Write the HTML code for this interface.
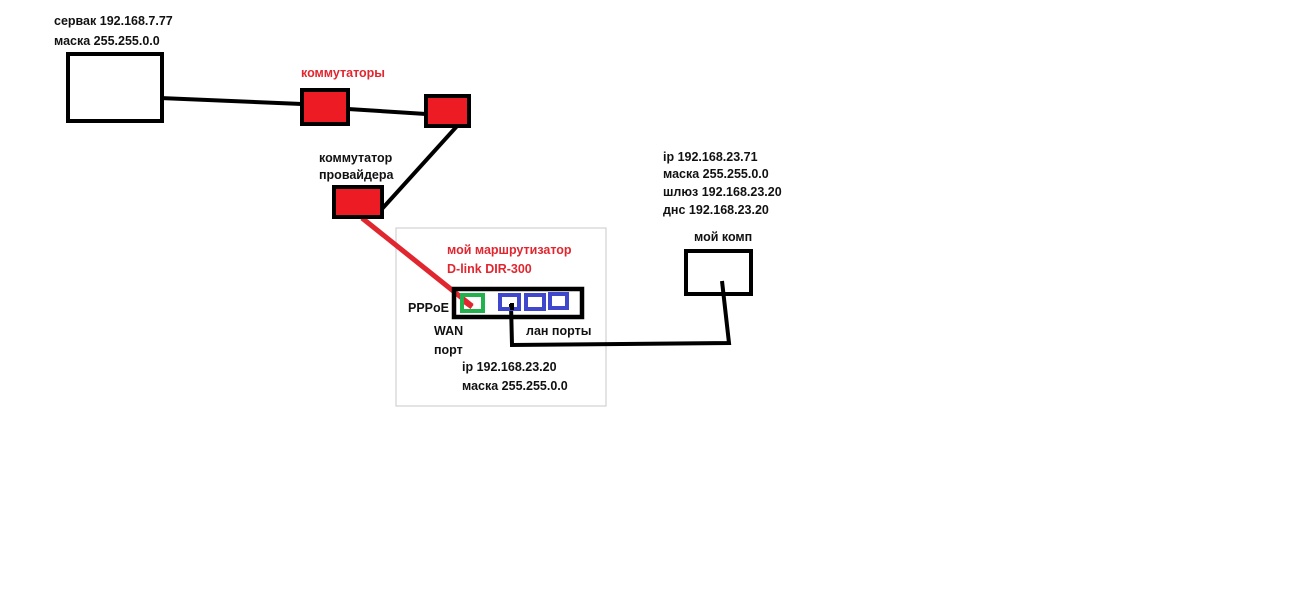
<!DOCTYPE html>
<html><head><meta charset="utf-8"><style>
html,body{margin:0;padding:0;background:#fff;}
svg{display:block;}
text{font-family:"Liberation Sans","DejaVu Sans",sans-serif;font-weight:bold;font-size:12.5px;fill:#111;}
.r{fill:#e0262f;}
</style></head><body>
<svg width="1289" height="600" viewBox="0 0 1289 600" xmlns="http://www.w3.org/2000/svg">
<rect x="0" y="0" width="1289" height="600" fill="#fff"/>
<rect x="396" y="228" width="210" height="178" fill="none" stroke="#c8c8c8" stroke-width="1"/>
<!-- lines -->
<line x1="160" y1="98" x2="302" y2="104" stroke="#000" stroke-width="4"/>
<line x1="348" y1="109" x2="426" y2="114" stroke="#000" stroke-width="4"/>
<line x1="458" y1="125" x2="381" y2="210" stroke="#000" stroke-width="4"/>
<line x1="362" y1="218" x2="472" y2="306" stroke="#e0262f" stroke-width="5"/>
<polyline points="511,304 512,345 729,343 722,281" fill="none" stroke="#000" stroke-width="4"/>
<!-- boxes -->
<rect x="68" y="54" width="94" height="67" fill="#fff" stroke="#000" stroke-width="4"/>
<rect x="302" y="90" width="46" height="34" fill="#ed1c24" stroke="#000" stroke-width="4"/>
<rect x="426" y="96" width="43" height="30" fill="#ed1c24" stroke="#000" stroke-width="4"/>
<rect x="334" y="187" width="48" height="30" fill="#ed1c24" stroke="#000" stroke-width="4"/>
<rect x="454" y="289" width="128" height="28" fill="none" stroke="#000" stroke-width="4.5"/>
<rect x="462" y="295" width="21" height="16" fill="none" stroke="#22b14c" stroke-width="4"/>
<line x1="465" y1="302" x2="472" y2="307" stroke="#e0262f" stroke-width="5"/>
<rect x="500" y="295" width="19" height="14" fill="none" stroke="#3f48cc" stroke-width="4"/>
<rect x="526" y="295" width="18" height="14" fill="none" stroke="#3f48cc" stroke-width="4"/>
<rect x="550" y="294" width="17" height="14" fill="none" stroke="#3f48cc" stroke-width="4"/>
<rect x="686" y="251" width="65" height="43" fill="none" stroke="#000" stroke-width="4"/>
<line x1="512" y1="303" x2="512" y2="310" stroke="#000" stroke-width="4"/>
<!-- text -->
<text x="54" y="25">сервак 192.168.7.77</text>
<text x="54" y="45">маска 255.255.0.0</text>
<text x="301" y="77" class="r">коммутаторы</text>
<text x="319" y="162">коммутатор</text>
<text x="319" y="179">провайдера</text>
<text x="447" y="254" class="r">мой маршрутизатор</text>
<text x="447" y="273" class="r">D-link DIR-300</text>
<text x="408" y="312">PPPoE</text>
<text x="434" y="335">WAN</text>
<text x="434" y="354">порт</text>
<text x="526" y="335">лан порты</text>
<text x="462" y="371">ip 192.168.23.20</text>
<text x="462" y="390">маска 255.255.0.0</text>
<text x="663" y="161">ip 192.168.23.71</text>
<text x="663" y="178">маска 255.255.0.0</text>
<text x="663" y="196">шлюз 192.168.23.20</text>
<text x="663" y="214">днс 192.168.23.20</text>
<text x="694" y="241">мой комп</text>
</svg>
</body></html>
